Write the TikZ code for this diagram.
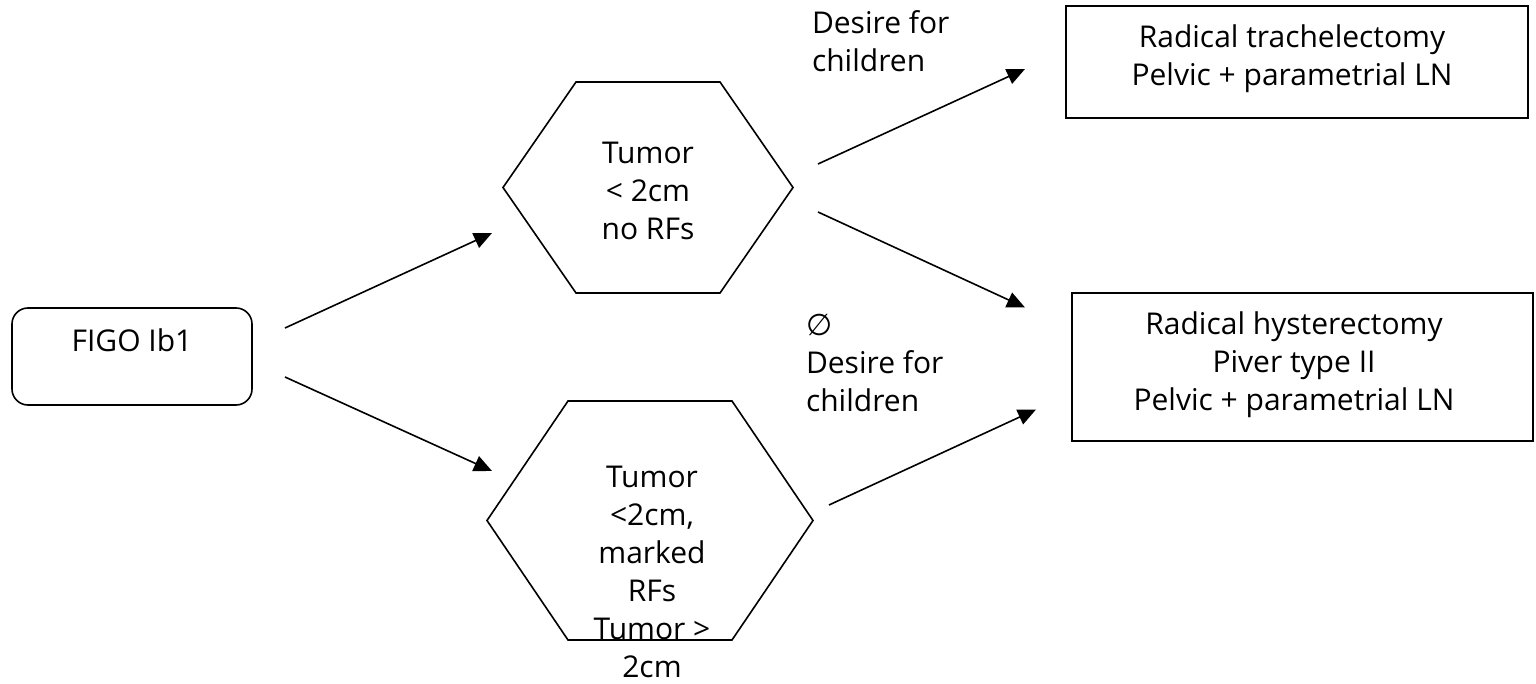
\documentclass[tikz,border=0pt]{standalone}
\usepackage{fontspec}
\setmainfont{Open Sans}
\newfontfamily\symfont{DejaVu Sans}
\usetikzlibrary{arrows.meta,calc}
\begin{document}
\begin{tikzpicture}[x=0.5pt,y=-0.5pt,
  font=\fontsize{15}{19}\selectfont,
  txt/.style={align=center, inner sep=0pt, outer sep=0pt},
  lbl/.style={align=left, inner sep=0pt, outer sep=0pt, anchor=west},
  frame/.style={draw, line width=0.8pt, inner sep=0pt, outer sep=0pt},
  shapebox/.style={inner sep=0pt, outer sep=0pt},
  hexline/.style={line width=0.8pt, line join=miter},
  arr/.style={line width=0.8pt, -{Triangle[length=9pt,width=8pt]}}]
\useasboundingbox (0,0) rectangle (1536,684);

% FIGO box
\node[frame, rounded corners=8pt, minimum width=120pt, text height=21.5pt, text depth=27pt] (f) at (132,356.5) {FIGO Ib1};

% top hexagon
\node[shapebox, minimum width=145pt, minimum height=105.5pt] (h1) at (648,187.5) {};
\draw[hexline] (h1.west) -- ($(h1.north west)+(73,0)$) -- ($(h1.north east)+(-73,0)$) -- (h1.east) -- ($(h1.south east)+(-73,0)$) -- ($(h1.south west)+(73,0)$) -- cycle;
\node[txt] (t1) at (648,190.5) {Tumor\\ < 2cm\\no RFs};

% bottom hexagon
\node[shapebox, minimum width=163pt, minimum height=119.5pt] (h2) at (650,520.5) {};
\draw[hexline] (h2.west) -- ($(h2.north west)+(81,0)$) -- ($(h2.north east)+(-81,0)$) -- (h2.east) -- ($(h2.south east)+(-81,0)$) -- ($(h2.south west)+(81,0)$) -- cycle;
\node[txt] (t2) at (652,572.3) {Tumor\\<2cm,\\marked\\RFs\\Tumor >\\2cm};

% result boxes
\node[frame, minimum width=231pt, minimum height=56pt] (r1) at (1297,62) {};
\node[txt] (s1) at (1292,59) {Radical trachelectomy\\Pelvic + parametrial LN};
\node[frame, minimum width=230.5pt, minimum height=74pt] (r2) at (1302.5,367) {};
\node[txt] (s2) at (1294,365.2) {Radical hysterectomy\\Piver type II\\Pelvic + parametrial LN};

% edge labels
\node[lbl] (l1) at (812,41.2) {Desire for\\children};
\node[lbl] (l2) at (806,362.5) {{\symfont ∅}\\Desire for\\children};

% arrows
\draw[arr] ($(f.east)+(33,-28.5)$) -- ($(h1.west)+(-11,45.5)$);
\draw[arr] ($(f.east)+(33,20.5)$) -- ($(h2.west)+(5,-49.5)$);
\draw[arr] ($(h1.east)+(25,-23.5)$) -- ($(r1.west)+(-41,7)$);
\draw[arr] ($(h1.east)+(25,24.5)$) -- ($(r2.west)+(-47,-59.5)$);
\draw[arr] ($(h2.east)+(16,-15.5)$) -- ($(r2.west)+(-36,42.5)$);
\end{tikzpicture}
\end{document}
